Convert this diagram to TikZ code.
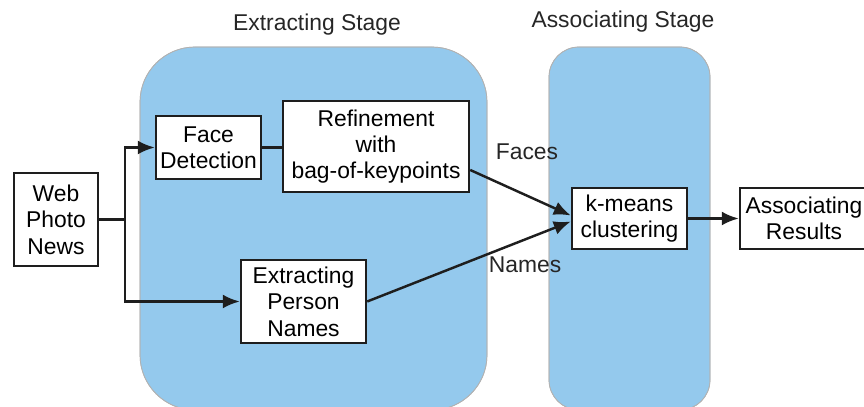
\documentclass[tikz,border=0pt]{standalone}
\usepackage{fontspec}
\setmainfont{Liberation Sans}
\usetikzlibrary{arrows.meta, positioning, calc}
\definecolor{cStage}{RGB}{148,201,237}
\definecolor{cEdge}{RGB}{30,30,30}
\newcommand{\boxfont}{\fontsize{13}{15}\selectfont}
\tikzset{
  stagebox/.style={draw=gray!60, thin, fill=cStage},
  procbox/.style={rectangle, draw=cEdge, line width=1.4pt, fill=white,
                  align=center, font=\boxfont, inner sep=2pt},
  stagetitle/.style={font=\boxfont, text=black!85},
  edgelabel/.style={font=\boxfont, text=black!85},
  arrow/.style={-{Latex[length=3.4mm, width=2.8mm]}, line width=1.4pt,
                color=cEdge},
  plainline/.style={line width=1.4pt, color=cEdge}
}

\begin{document}
\begin{tikzpicture}
  \useasboundingbox (0,0) rectangle (17.28,8.14);

  % the two stage regions
  \fill[stagebox, rounded corners=1.1cm] (2.80,-0.06) rectangle (9.74,7.20);
  \fill[stagebox, rounded corners=0.6cm] (10.98,-0.06) rectangle (14.20,7.20);
  \draw[gray!60, thin, rounded corners=1.1cm] (2.80,-0.06) rectangle (9.74,7.20);
  \draw[gray!60, thin, rounded corners=0.6cm] (10.98,-0.06) rectangle (14.20,7.20);

  \node[stagetitle] (titleA) at (6.34,7.64) {Extracting Stage};
  \node[stagetitle] (titleB) at (12.46,7.70) {Associating Stage};

  % processing steps
  \node[procbox, minimum width=1.68cm, minimum height=1.86cm] (web) at (1.12,3.75)
    {Web\\Photo\\News};
  \node[procbox, minimum width=2.10cm, minimum height=1.26cm] (face) at (4.17,5.19)
    {Face\\Detection};
  \node[procbox, minimum width=3.72cm, minimum height=1.82cm] (refine) at (7.52,5.21)
    {Refinement\\with\\bag-of-keypoints};
  \node[procbox, minimum width=2.50cm, minimum height=1.66cm] (names) at (6.07,2.11)
    {Extracting\\Person\\Names};
  \node[procbox, minimum width=2.30cm, minimum height=1.22cm] (kmeans) at (12.59,3.77)
    {k-means\\clustering};
  \node[procbox, minimum width=2.56cm, minimum height=1.22cm] (result) at (16.08,3.77)
    {Associating\\Results};

  % connectors
  \coordinate (split) at (2.50,3.75);
  \draw[plainline] (web.east) -- (split);
  \draw[arrow] (split) |- (face.west);
  \draw[arrow] (split) |- (names.west);
  \draw[plainline] (face.east) -- (refine.west |- face.east);
  \draw[arrow] (refine.-14) -- ($(kmeans.west)+(0,0.06)$);
  \draw[arrow] (names.east) -- ($(kmeans.west)+(0,-0.06)$);
  \draw[arrow] (kmeans.east) -- (result.west);

  \node[edgelabel] (lblFaces) at (10.54,5.10) {Faces};
  \node[edgelabel] (lblNames) at (10.50,2.84) {Names};
\end{tikzpicture}
\end{document}
